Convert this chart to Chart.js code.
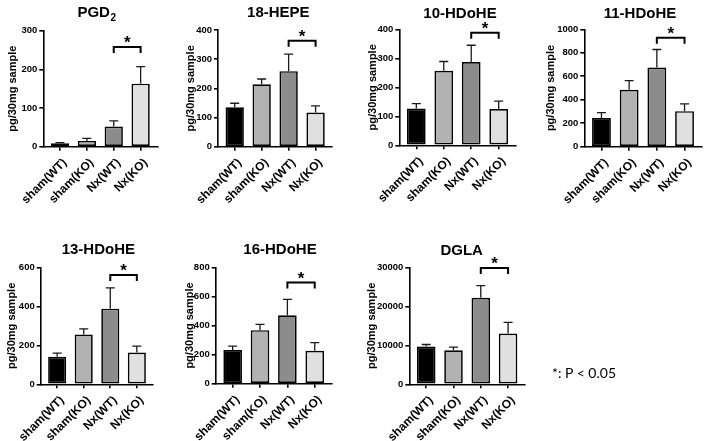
<!DOCTYPE html>
<html><head><meta charset="utf-8">
<script src="https://cdn.jsdelivr.net/npm/chart.js@4.4.0/dist/chart.umd.min.js"></script>
<style>
html,body{margin:0;padding:0;background:#fff;}
#wrap{position:relative;width:709px;height:441px;overflow:hidden;background:#fff;}
#wrap canvas{position:absolute;left:0;top:0;pointer-events:none;}
#note{position:absolute;left:552px;top:364px;font-family:Lato,"Open Sans",sans-serif;font-size:14px;color:#000;white-space:nowrap;line-height:18px;}
</style></head><body>
<div id="wrap">
<canvas id="c0" width="709" height="540"></canvas>
<canvas id="c1" width="709" height="540"></canvas>
<canvas id="c2" width="709" height="540"></canvas>
<canvas id="c3" width="709" height="540"></canvas>
<canvas id="c4" width="709" height="540"></canvas>
<canvas id="c5" width="709" height="540"></canvas>
<canvas id="c6" width="709" height="540"></canvas>
<div id="note">*: P &lt; 0.05</div>
</div>
<script>
// ---------- data ----------
const categories = ['sham(WT)', 'sham(KO)', 'Nx(WT)', 'Nx(KO)'];
const panelTitles = ['PGD', '18-HEPE', '10-HDoHE', '11-HDoHE', '13-HDoHE', '16-HDoHE', 'DGLA'];
const titleSubscripts = ['2', '', '', '', '', '', ''];
const yAxisTitle = 'pg/30mg sample';

const pgd2Mean = [9, 15, 52, 163];
const pgd2Sem = [1.5, 6.5, 15, 44];
const hepe18Mean = [135, 214, 259, 117];
const hepe18Sem = [14, 18, 58, 23];
const hdohe10Mean = [127, 257, 287, 125];
const hdohe10Sem = [17, 32, 58, 27];
const hdohe11Mean = [245, 485, 675, 303];
const hdohe11Sem = [45, 78, 153, 61];
const hdohe13Mean = [141, 256, 388, 163];
const hdohe13Sem = [19, 28, 107, 33];
const hdohe16Mean = [232, 368, 470, 226];
const hdohe16Sem = [26, 40, 110, 56];
const dglaMean = [9700, 8750, 22200, 13000];
const dglaSem = [500, 800, 3100, 2900];

const yAxisMax = [300, 400, 400, 1000, 600, 800, 30000];
const yAxisStep = [100, 100, 100, 200, 200, 200, 10000];
const sigLevel = [258, 363, 388, 929, 561, 695, 29800];
const sigPair = [2, 3];

const allMeans = [pgd2Mean, hepe18Mean, hdohe10Mean, hdohe11Mean, hdohe13Mean, hdohe16Mean, dglaMean];
const allSems = [pgd2Sem, hepe18Sem, hdohe10Sem, hdohe11Sem, hdohe13Sem, hdohe16Sem, dglaSem];

// ---------- layout & style ----------
const FONT = "'Liberation Sans', Arial, sans-serif";
const CANVAS_W = 709, CANVAS_H = 540;
const barFill = ['#000000', '#b2b2b2', '#8c8c8c', '#e0e0e0'];
const panelBox = [
  {l: 43.3, r: 157.3, t: 30.7, b: 146.7, yt: 30.6, tx: 96.7, ty: 13.3},
  {l: 218, r: 332.3, t: 30, b: 146.7, yt: 27, tx: 278.3, ty: 13.3},
  {l: 399.3, r: 515.7, t: 29.3, b: 145.3, yt: 26.6, tx: 460, ty: 14},
  {l: 584.3, r: 701.7, t: 29.3, b: 146.7, yt: 33.3, tx: 640, ty: 14},
  {l: 40.7, r: 153.3, t: 267.3, b: 384.3, yt: 29, tx: 98.3, ty: 250},
  {l: 215.7, r: 331.7, t: 267.3, b: 383.7, yt: 25.7, tx: 280, ty: 250},
  {l: 409.3, r: 525, t: 267.3, b: 384.3, yt: 37.6, tx: 461.7, ty: 250.7}
];
const X_MIN = -0.62, X_MAX = 3.62;
const X_H = 80;

Chart.defaults.font.family = FONT;
Chart.defaults.color = '#000';

const annot = {
  id: 'annot',
  afterDatasetsDraw(chart, args, o) {
    const {ctx} = chart;
    const x = chart.scales.x, y = chart.scales.y;
    const meta = chart.getDatasetMeta(0);
    ctx.save();
    // error bars (upper)
    ctx.strokeStyle = '#1a1a1a';
    ctx.lineWidth = 1.3;
    o.mean.forEach((m, i) => {
      const px = meta.data[i].x;
      const y0 = y.getPixelForValue(m);
      const y1 = y.getPixelForValue(m + o.sem[i]);
      ctx.beginPath();
      ctx.moveTo(px, y0); ctx.lineTo(px, y1);
      ctx.moveTo(px - 4.5, y1); ctx.lineTo(px + 4.5, y1);
      ctx.stroke();
    });
    // significance bracket
    const xa = x.getPixelForValue(sigPair[0]);
    const xb = x.getPixelForValue(sigPair[1]);
    const yb = y.getPixelForValue(o.sig);
    ctx.strokeStyle = '#000';
    ctx.lineWidth = 2;
    ctx.beginPath();
    ctx.moveTo(xa, yb + 6); ctx.lineTo(xa, yb); ctx.lineTo(xb, yb); ctx.lineTo(xb, yb + 6);
    ctx.stroke();
    ctx.fillStyle = '#000';
    ctx.font = 'bold 17px ' + FONT;
    ctx.textAlign = 'center';
    ctx.textBaseline = 'alphabetic';
    ctx.fillText('*', (xa + xb) / 2, yb + 1);
    // title
    ctx.font = 'bold 15px ' + FONT;
    const wMain = ctx.measureText(o.title).width;
    ctx.font = 'bold 10px ' + FONT;
    const wSub = o.sub ? ctx.measureText(o.sub).width + 0.5 : 0;
    const startX = o.tx - (wMain + wSub) / 2;
    ctx.textAlign = 'left';
    ctx.textBaseline = 'middle';
    ctx.font = 'bold 15px ' + FONT;
    ctx.fillText(o.title, startX, o.ty);
    if (o.sub) {
      ctx.font = 'bold 10px ' + FONT;
      ctx.fillText(o.sub, startX + wMain + 0.5, o.ty + 5);
    }
    ctx.restore();
  }
};

function makeChart(idx) {
  const B = panelBox[idx];
  const yW = B.yt + 11 * 1.2 / 2;
  const mean = allMeans[idx], sem = allSems[idx];
  new Chart(document.getElementById('c' + idx), {
    type: 'bar',
    data: {
      datasets: [{
        data: categories.map((c, i) => ({x: i, y: mean[i]})),
        backgroundColor: barFill,
        borderColor: '#000',
        borderWidth: 1.7,
        borderSkipped: false,
        barPercentage: 0.68,
        categoryPercentage: 1
      }]
    },
    options: {
      responsive: false,
      animation: false,
      devicePixelRatio: 1,
      events: [],
      layout: {padding: {left: B.l - yW, top: B.t, right: CANVAS_W - B.r, bottom: CANVAS_H - B.b - X_H}},
      plugins: {
        legend: {display: false},
        tooltip: {enabled: false},
        annot: {mean: mean, sem: sem, sig: sigLevel[idx], title: panelTitles[idx], sub: titleSubscripts[idx], tx: B.tx, ty: B.ty}
      },
      scales: {
        x: {
          type: 'linear', min: X_MIN, max: X_MAX, offset: false,
          afterBuildTicks: s => { s.ticks = categories.map((c, i) => ({value: i})); },
          afterFit: s => { s.height = X_H; },
          ticks: {
            autoSkip: false, maxRotation: 45, minRotation: 45, includeBounds: false,
            font: {size: 12, weight: 'bold'}, color: '#000', padding: 5, labelOffset: 5,
            callback: v => categories[v]
          },
          grid: {display: true, drawOnChartArea: false, drawTicks: true, tickLength: 4, color: '#000', lineWidth: 1.6, offset: false},
          border: {display: true, color: '#000', width: 1.6}
        },
        y: {
          min: 0, max: yAxisMax[idx],
          afterFit: s => { s.width = yW; },
          ticks: {stepSize: yAxisStep[idx], font: {size: 9.5, weight: 'bold'}, color: '#000', padding: 2,
                  callback: v => String(v)},
          grid: {display: true, drawOnChartArea: false, drawTicks: true, tickLength: 4, color: '#000', lineWidth: 1.6},
          border: {display: true, color: '#000', width: 1.6},
          title: {display: true, text: yAxisTitle, font: {size: 11, weight: 'bold'}, color: '#000', padding: 0}
        }
      }
    },
    plugins: [annot]
  });
}

for (let i = 0; i < 7; i++) makeChart(i);
</script>
</body></html>
